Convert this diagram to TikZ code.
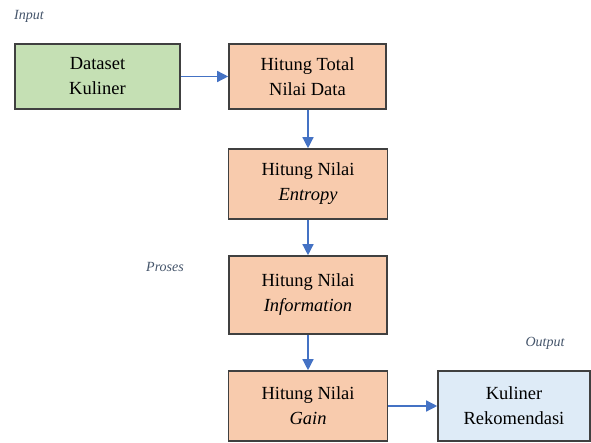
\documentclass[tikz,border=0pt]{standalone}
\usepackage{fontspec}
\setmainfont{Liberation Serif}
\usetikzlibrary{arrows.meta}
\definecolor{boxline}{HTML}{404040}
\definecolor{greenfill}{HTML}{C5E0B4}
\definecolor{orangefill}{HTML}{F8CBAD}
\definecolor{bluefill}{HTML}{DEEBF7}
\definecolor{arrowblue}{HTML}{4472C4}
\definecolor{labelgray}{HTML}{44546A}
\tikzset{
  box/.style={draw=boxline, line width=1.6pt, minimum width=#1, align=center,
    font=\fontsize{18.5}{25}\selectfont, inner sep=0pt},
  flow/.style={draw=arrowblue, line width=1.4pt, -{Triangle[length=11pt,width=11pt]}},
  lbl/.style={font=\fontsize{14}{16}\selectfont\itshape, text=labelgray, inner sep=0pt}
}
\begin{document}
\begin{tikzpicture}[x=1pt,y=-1pt]
\useasboundingbox (0,0) rectangle (591,443);
\node[box=165pt, fill=greenfill, minimum height=65pt] (ds) at (97.5,76.5) {Dataset\\Kuliner};
\node[box=157pt, fill=orangefill, minimum height=65pt] (tot) at (307.5,76.5) {Hitung Total\\Nilai Data};
\node[box=159pt, fill=orangefill, minimum height=70pt] (ent) at (308,184) {Hitung Nilai\\\textit{Entropy}};
\node[box=158pt, fill=orangefill, minimum height=78pt] (inf) at (308,295) {Hitung Nilai\\\textit{Information}};
\node[box=159pt, fill=orangefill, minimum height=70pt] (gain) at (308,406) {Hitung Nilai\\\textit{Gain}};
\node[box=152pt, fill=bluefill, minimum height=70pt] (rek) at (514,406) {Kuliner\\Rekomendasi};
\node[lbl] (lin) at (29,16) {Input};
\node[lbl] (lpr) at (165,267) {Proses};
\node[lbl] (lout) at (545,343) {Output};
\draw[flow] (ds.east) -- (tot.west);
\draw[flow] (tot.south -| ent.north) -- (ent.north);
\draw[flow] (ent.south) -- (inf.north);
\draw[flow] (inf.south) -- (gain.north);
\draw[flow] (gain.east) -- (rek.west);
\end{tikzpicture}
\end{document}
